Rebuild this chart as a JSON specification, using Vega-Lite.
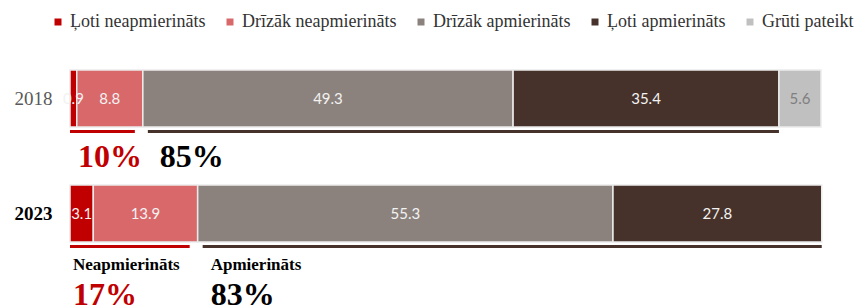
{
  "$schema": "https://vega.github.io/schema/vega-lite/v6.json",
  "width": 751,
  "height": 230,
  "autosize": {"type": "none"},
  "padding": {"left": 70, "top": 41, "right": 36, "bottom": 37},
  "background": "white",
  "config": {"view": {"stroke": null}},
  "datasets": {
    "bars": [
      {"year": "2018", "cat": "Ļoti neapmierināts", "ord": 1, "value": 0.9},
      {"year": "2018", "cat": "Drīzāk neapmierināts", "ord": 2, "value": 8.8},
      {"year": "2018", "cat": "Drīzāk apmierināts", "ord": 3, "value": 49.3},
      {"year": "2018", "cat": "Ļoti apmierināts", "ord": 4, "value": 35.4},
      {"year": "2018", "cat": "Grūti pateikt", "ord": 5, "value": 5.6},
      {"year": "2023", "cat": "Ļoti neapmierināts", "ord": 1, "value": 3.1},
      {"year": "2023", "cat": "Drīzāk neapmierināts", "ord": 2, "value": 13.9},
      {"year": "2023", "cat": "Drīzāk apmierināts", "ord": 3, "value": 55.3},
      {"year": "2023", "cat": "Ļoti apmierināts", "ord": 4, "value": 27.8}
    ],
    "groups": [
      {"year": "2018", "group": "Neapmierināts", "pct": "10%", "start": 0, "end": 9.7},
      {"year": "2018", "group": "Apmierināts", "pct": "85%", "start": 9.7, "end": 94.4},
      {"year": "2023", "group": "Neapmierināts", "pct": "17%", "start": 0, "end": 17},
      {"year": "2023", "group": "Apmierināts", "pct": "83%", "start": 17, "end": 100.1}
    ]
  },
  "encoding": {
    "y": {
      "field": "year",
      "type": "nominal",
      "scale": {"domain": ["2018", "2023"], "paddingInner": 0.504, "paddingOuter": 0.252},
      "axis": {
        "title": null,
        "domain": false,
        "ticks": false,
        "labelPadding": 18,
        "labelFont": "Liberation Serif",
        "labelFontSize": 19,
        "labelColor": {"condition": {"test": "datum.value == '2023'", "value": "#000000"}, "value": "#595959"},
        "labelFontWeight": {"condition": {"test": "datum.value == '2023'", "value": "bold"}, "value": "normal"}
      }
    }
  },
  "layer": [
    {
      "data": {"name": "bars"},
      "mark": {"type": "bar", "stroke": "#ebebeb", "strokeWidth": 1.5},
      "encoding": {
        "x": {"field": "value", "type": "quantitative", "stack": "zero", "scale": {"domain": [0, 100], "nice": false, "zero": true}, "axis": null},
        "order": {"field": "ord", "type": "quantitative"},
        "color": {
          "field": "cat",
          "type": "nominal",
          "scale": {
            "domain": ["Ļoti neapmierināts", "Drīzāk neapmierināts", "Drīzāk apmierināts", "Ļoti apmierināts", "Grūti pateikt"],
            "range": ["#C00000", "#D9686B", "#8C827D", "#46322A", "#C0C0C0"]
          },
          "legend": {
            "title": null,
            "orient": "none",
            "direction": "horizontal",
            "legendX": -21,
            "legendY": -28,
            "padding": 0,
            "gridAlign": "none",
            "symbolType": "square",
            "symbolSize": 49,
            "symbolStrokeWidth": 0,
            "labelFont": "Liberation Serif",
            "labelFontSize": 18,
            "labelColor": "#333333",
            "labelOffset": 3,
            "columnPadding": 15,
            "labelLimit": 400
          }
        }
      }
    },
    {
      "data": {"name": "bars"},
      "mark": {"type": "text", "font": "Lato", "fontSize": 15, "baseline": "middle", "align": "center"},
      "encoding": {
        "x": {"field": "value", "type": "quantitative", "stack": "zero", "bandPosition": 0.5},
        "order": {"field": "ord", "type": "quantitative"},
        "text": {"field": "value", "type": "quantitative", "format": ".1f"},
        "color": {"condition": {"test": "datum.cat == 'Grūti pateikt'", "value": "#7f7f7f"}, "value": "#f2f2f2"}
      }
    },
    {
      "data": {"name": "groups"},
      "transform": [{"filter": "datum.group == 'Neapmierināts'"}],
      "mark": {"type": "rule", "color": "#C00000", "strokeWidth": 3, "yOffset": 33, "x2Offset": -8},
      "encoding": {
        "x": {"field": "start", "type": "quantitative"},
        "x2": {"field": "end"}
      }
    },
    {
      "data": {"name": "groups"},
      "transform": [{"filter": "datum.group == 'Apmierināts'"}],
      "mark": {"type": "rule", "color": "#46322A", "strokeWidth": 3, "yOffset": 33, "xOffset": 5},
      "encoding": {
        "x": {"field": "start", "type": "quantitative"},
        "x2": {"field": "end"}
      }
    },
    {
      "data": {"name": "groups"},
      "transform": [{"filter": "datum.year == '2018' && datum.group == 'Neapmierināts'"}],
      "mark": {"type": "text", "font": "Liberation Serif", "fontWeight": "bold", "fontSize": 32, "align": "left", "baseline": "alphabetic", "dx": 8, "dy": 68.5, "color": "#C00000"},
      "encoding": {"x": {"field": "start", "type": "quantitative"}, "text": {"field": "pct"}}
    },
    {
      "data": {"name": "groups"},
      "transform": [{"filter": "datum.year == '2018' && datum.group == 'Apmierināts'"}],
      "mark": {"type": "text", "font": "Liberation Serif", "fontWeight": "bold", "fontSize": 32, "align": "left", "baseline": "alphabetic", "dx": 17, "dy": 68.5, "color": "#000000"},
      "encoding": {"x": {"field": "start", "type": "quantitative"}, "text": {"field": "pct"}}
    },
    {
      "data": {"name": "groups"},
      "transform": [{"filter": "datum.year == '2023' && datum.group == 'Neapmierināts'"}],
      "mark": {"type": "text", "font": "Liberation Serif", "fontWeight": "bold", "fontSize": 32, "align": "left", "baseline": "alphabetic", "dx": 3, "dy": 91, "color": "#C00000"},
      "encoding": {"x": {"field": "start", "type": "quantitative"}, "text": {"field": "pct"}}
    },
    {
      "data": {"name": "groups"},
      "transform": [{"filter": "datum.year == '2023' && datum.group == 'Apmierināts'"}],
      "mark": {"type": "text", "font": "Liberation Serif", "fontWeight": "bold", "fontSize": 32, "align": "left", "baseline": "alphabetic", "dx": 13, "dy": 91, "color": "#000000"},
      "encoding": {"x": {"field": "start", "type": "quantitative"}, "text": {"field": "pct"}}
    },
    {
      "data": {"name": "groups"},
      "transform": [{"filter": "datum.year == '2023' && datum.group == 'Neapmierināts'"}],
      "mark": {"type": "text", "font": "Liberation Serif", "fontWeight": "bold", "fontSize": 17, "align": "left", "baseline": "alphabetic", "dx": 3, "dy": 56.5, "color": "#000000"},
      "encoding": {"x": {"field": "start", "type": "quantitative"}, "text": {"field": "group"}}
    },
    {
      "data": {"name": "groups"},
      "transform": [{"filter": "datum.year == '2023' && datum.group == 'Apmierināts'"}],
      "mark": {"type": "text", "font": "Liberation Serif", "fontWeight": "bold", "fontSize": 17, "align": "left", "baseline": "alphabetic", "dx": 13, "dy": 56.5, "color": "#000000"},
      "encoding": {"x": {"field": "start", "type": "quantitative"}, "text": {"field": "group"}}
    }
  ]
}
